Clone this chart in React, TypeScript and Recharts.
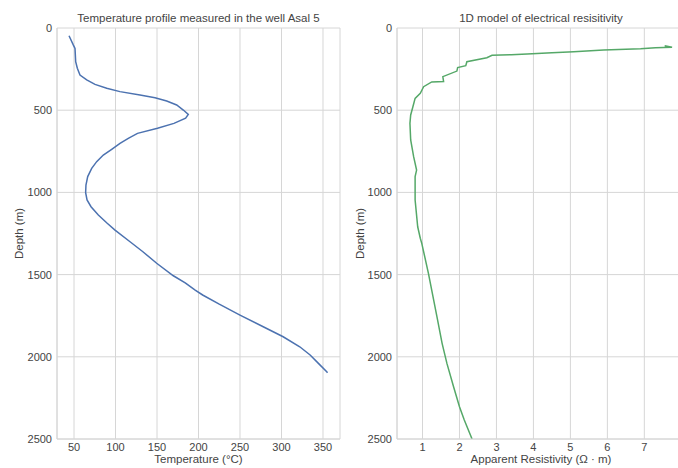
import { LineChart, Line, XAxis, YAxis, CartesianGrid } from "recharts";

// temperature log, well Asal 5
const tempDepth = [
  47, 103, 124, 205, 245, 286, 316, 343, 367, 387, 408, 424, 444, 468, 499, 525,
  549, 580, 610, 641, 671, 702, 738, 773, 813, 854, 904, 955, 1002, 1046, 1087,
  1138, 1188, 1229, 1300, 1361, 1431, 1507, 1550, 1594, 1624, 1680, 1746, 1817,
  1878, 1939, 1989, 2040, 2091, 2097,
];
const tempValue = [
  44, 49.1, 51.2, 52, 54, 57.2, 65.3, 75.3, 89.4, 105.4, 129.5, 147.6, 161.7,
  173.7, 181.7, 187.7, 184.5, 170.4, 150.6, 126.5, 115.4, 105.4, 95.4, 85.3,
  77.3, 71.3, 66.5, 64.4, 64, 65.7, 70.5, 79.3, 90, 99.4, 117.5, 133, 149.6,
  169.7, 184, 196, 205, 225, 250, 278, 302, 322, 334.5, 344.5, 354.5, 355.5,
];

// 1D resistivity model
const resDepth = [
  108, 117, 120, 126, 134, 144, 150, 158, 162, 166, 181, 205, 229, 241, 262, 296,
  326, 328, 357, 397, 428, 479, 529, 580, 681, 783, 864, 904, 1046, 1209, 1279,
  1310, 1492, 1756, 1918, 2040, 2182, 2304, 2385, 2500,
];
const resValue = [
  7.55, 7.75, 7.3, 6.9, 5.9, 5.09, 4.5, 3.83, 3.4, 2.88, 2.74, 2.2, 2.17, 1.95,
  1.93, 1.55, 1.57, 1.25, 1.03, 0.94, 0.8, 0.74, 0.68, 0.66, 0.68, 0.76, 0.84,
  0.8, 0.8, 0.87, 0.94, 0.98, 1.16, 1.39, 1.53, 1.66, 1.84, 2.0, 2.13, 2.34,
];

const depthTicks = [0, 500, 1000, 1500, 2000, 2500];
const tempTicks = [50, 100, 150, 200, 250, 300, 350];
const resTicks = [1, 2, 3, 4, 5, 6, 7];

const tempData = tempDepth.map((depth, i) => ({ depth, value: tempValue[i] }));
const resData = resDepth.map((depth, i) => ({ depth, value: resValue[i] }));

const GRID = "#d6d6d6";
const TEXT = "#444";
const FONT = "'Liberation Sans', Arial, sans-serif";
const H = 468;

const tick = { fontSize: 11, fill: TEXT, fontFamily: FONT };

interface PanelProps {
  left: number;
  width: number;
  rightGap: number;
  title: string;
  xLabel: string;
  data: { depth: number; value: number }[];
  domain: [number, number];
  ticks: number[];
  color: string;
  labelOffset: number;
}

function Panel({ left, width, rightGap, title, xLabel, data, domain, ticks, color, labelOffset }: PanelProps) {
  return (
    <div style={{ position: "absolute", left, top: 0, width, height: H }}>
      <div
        style={{
          position: "absolute",
          left: 57,
          width: width - 57 - rightGap,
          top: 11,
          textAlign: "center",
          fontSize: 11.5,
          lineHeight: "14px",
          color: TEXT,
          fontFamily: FONT,
          whiteSpace: "nowrap",
        }}
      >
        {title}
      </div>
      <LineChart
        layout="vertical"
        width={width}
        height={H}
        data={data}
        margin={{ top: 28, right: rightGap, bottom: 0, left: 0 }}
      >
        <CartesianGrid stroke={GRID} strokeWidth={1} />
        <XAxis
          type="number"
          domain={domain}
          ticks={ticks}
          allowDataOverflow
          height={29}
          tickSize={0}
          tickMargin={4}
          tick={tick}
          axisLine={{ stroke: GRID }}
          label={{
            value: xLabel,
            position: "insideBottom",
            offset: 5,
            style: { fontSize: 11.5, fill: TEXT, fontFamily: FONT },
          }}
        />
        <YAxis
          type="number"
          dataKey="depth"
          domain={[0, 2500]}
          ticks={depthTicks}
          allowDataOverflow
          width={57}
          tickSize={0}
          tickMargin={5}
          tick={tick}
          axisLine={{ stroke: GRID }}
          label={{
            value: "Depth (m)",
            angle: -90,
            position: "insideLeft",
            offset: labelOffset,
            style: { fontSize: 11.5, fill: TEXT, fontFamily: FONT, textAnchor: "middle" },
          }}
        />
        <YAxis
          yAxisId="frame"
          orientation="right"
          type="number"
          domain={[0, 2500]}
          width={0}
          tick={false}
          tickSize={0}
          axisLine={{ stroke: GRID }}
        />
        <Line
          dataKey="value"
          stroke={color}
          strokeWidth={1.5}
          dot={false}
          activeDot={false}
          isAnimationActive={false}
        />
      </LineChart>
    </div>
  );
}

export default function App() {
  return (
    <div
      style={{
        position: "absolute",
        left: 0,
        top: 0,
        width: 678,
        height: H,
        overflow: "hidden",
        background: "#fff",
      }}
    >
      <Panel
        left={0}
        width={345}
        rightGap={5}
        title="Temperature profile measured in the well Asal 5"
        xLabel="Temperature (°C)"
        data={tempData}
        domain={[29.5, 370.5]}
        ticks={tempTicks}
        color="#4c72b0"
        labelOffset={19}
      />
      <Panel
        left={340}
        width={345}
        rightGap={0}
        title="1D model of electrical resisitivity"
        xLabel="Apparent Resistivity (Ω · m)"
        data={resData}
        domain={[0.31, 8.1]}
        ticks={resTicks}
        color="#55a868"
        labelOffset={20}
      />
    </div>
  );
}
